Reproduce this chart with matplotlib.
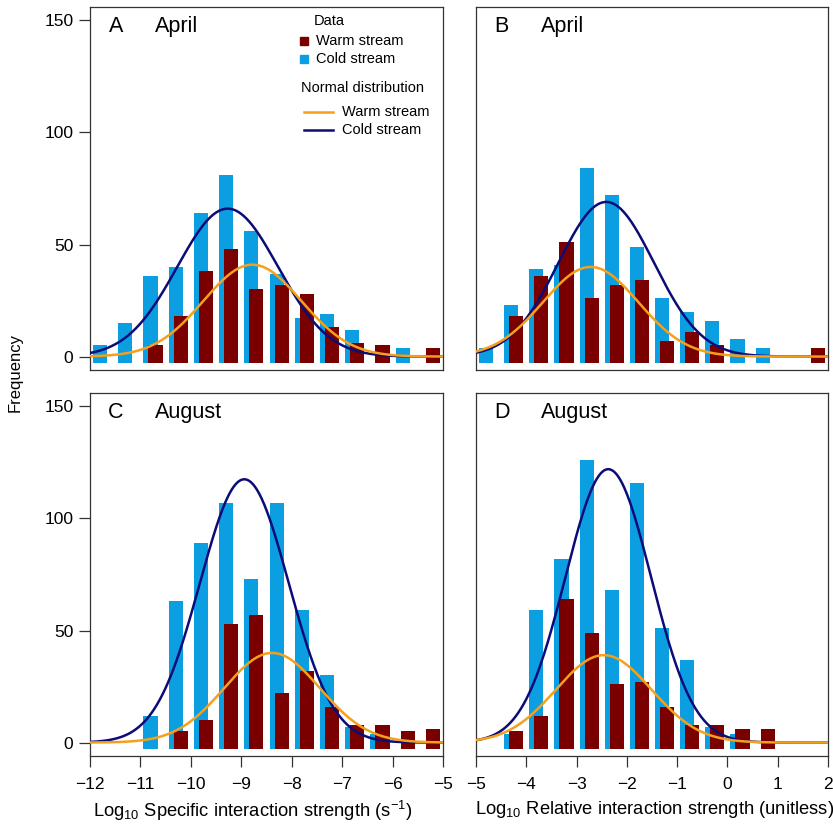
import numpy as np
import matplotlib
matplotlib.use("Agg")
import matplotlib.pyplot as plt

plt.rcParams['font.family'] = ['Liberation Sans', 'DejaVu Sans']
plt.rcParams['mathtext.fontset'] = 'custom'
plt.rcParams['mathtext.rm'] = 'Liberation Sans'
plt.rcParams['mathtext.it'] = 'Liberation Sans:italic'
plt.rcParams['mathtext.bf'] = 'Liberation Sans:bold'

# ---------------- data ----------------
bins_specific = [-11.75, -11.25, -10.75, -10.25, -9.75, -9.25, -8.75,
                 -8.25, -7.75, -7.25, -6.75, -6.25, -5.75, -5.25]
bins_relative = [-4.75, -4.25, -3.75, -3.25, -2.75, -2.25, -1.75,
                 -1.25, -0.75, -0.25, 0.25, 0.75, 1.25, 1.75]

april_specific_cold = [5, 15, 36, 40, 64, 81, 56, 37, 17, 19, 12, 0, 4, 0]
april_specific_warm = [0, 0, 5, 18, 38, 48, 30, 32, 28, 13, 6, 5, 0, 4]
april_relative_cold = [4, 23, 39, 41, 84, 72, 49, 26, 20, 16, 8, 4, 0, 0]
april_relative_warm = [0, 18, 36, 51, 26, 32, 34, 7, 11, 5, 0, 0, 0, 4]
august_specific_cold = [0, 0, 12, 63, 89, 107, 73, 107, 59, 30, 7, 4, 0, 0]
august_specific_warm = [0, 0, 0, 5, 10, 53, 57, 22, 32, 16, 8, 8, 5, 6]
august_relative_cold = [0, 4, 59, 82, 126, 68, 116, 51, 37, 7, 4, 0, 0, 0]
august_relative_warm = [0, 5, 12, 64, 49, 26, 27, 16, 8, 8, 6, 6, 0, 0]

# fitted normal curves: (mean, sd, peak height)
fit_april_specific_cold = (-9.27, 1.00, 66)
fit_april_specific_warm = (-8.78, 0.97, 41)
fit_april_relative_cold = (-2.41, 0.95, 69)
fit_april_relative_warm = (-2.72, 0.95, 40)
fit_august_specific_cold = (-8.94, 0.88, 117.5)
fit_august_specific_warm = (-8.39, 0.95, 40)
fit_august_relative_cold = (-2.37, 0.85, 122)
fit_august_relative_warm = (-2.46, 0.95, 39)

panel_letters = ['A', 'B', 'C', 'D']
panel_months = ['April', 'April', 'August', 'August']
xticks_specific = [-12, -11, -10, -9, -8, -7, -6, -5]
xticks_relative = [-5, -4, -3, -2, -1, 0, 1, 2]
yticks = [0, 50, 100, 150]

# ---------------- style ----------------
C_COLD_BAR = '#0B9FE2'
C_WARM_BAR = '#7A0000'
C_COLD_LINE = '#0C0C78'
C_WARM_LINE = '#F5A01C'
BAR_W = 0.28
OFFSET = 0.05
BASE = -3

W, H = 833, 825
fig = plt.figure(figsize=(W / 100, H / 100), dpi=100)


def ax_at(x0, x1, ytop, ybot):
    return fig.add_axes([x0 / W, 1 - ybot / H, (x1 - x0) / W, (ybot - ytop) / H])


axA = ax_at(90, 443, 7, 370)
axB = ax_at(476, 828, 7, 370)
axC = ax_at(90, 443, 393, 756)
axD = ax_at(476, 828, 393, 756)

panels = [
    (axA, bins_specific, april_specific_cold, april_specific_warm,
     fit_april_specific_cold, fit_april_specific_warm, (-12, -5)),
    (axB, bins_relative, april_relative_cold, april_relative_warm,
     fit_april_relative_cold, fit_april_relative_warm, (-5, 2)),
    (axC, bins_specific, august_specific_cold, august_specific_warm,
     fit_august_specific_cold, fit_august_specific_warm, (-12, -5)),
    (axD, bins_relative, august_relative_cold, august_relative_warm,
     fit_august_relative_cold, fit_august_relative_warm, (-5, 2)),
]


def normal_curve(x, fit):
    m, s, p = fit
    return p * np.exp(-0.5 * ((x - m) / s) ** 2)


for i, (ax, bins, cold, warm, fc, fw, xl) in enumerate(panels):
    b = np.array(bins)
    c = np.array(cold, dtype=float)
    w = np.array(warm, dtype=float)
    mc = c > 0
    mw = w > 0
    ax.bar(b[mc] - OFFSET, c[mc] - BASE, bottom=BASE, width=BAR_W,
           color=C_COLD_BAR, linewidth=0, zorder=2)
    ax.bar(b[mw] + OFFSET, w[mw] - BASE, bottom=BASE, width=BAR_W,
           color=C_WARM_BAR, linewidth=0, zorder=3)
    xx = np.linspace(xl[0], xl[1], 400)
    ax.plot(xx, normal_curve(xx, fc), color=C_COLD_LINE, lw=1.8, zorder=4)
    ax.plot(xx, normal_curve(xx, fw), color=C_WARM_LINE, lw=1.8, zorder=5)
    ax.set_xlim(*xl)
    ax.set_ylim(-6, 156)
    for sp in ax.spines.values():
        sp.set_linewidth(0.9)
        sp.set_color('#333333')
    ax.tick_params(direction='out', length=8, width=0.9, color='#333333',
                   labelsize=12.5, pad=4)
    if i in (0, 2):
        ax.set_yticks(yticks)
        ax.set_yticklabels([str(v) for v in yticks])
    else:
        ax.set_yticks([])
    if i in (2, 3):
        ticks = xticks_specific if i == 2 else xticks_relative
        ax.set_xticks(ticks)
        ax.set_xticklabels([('\u2212' + str(-t)) if t < 0 else str(t) for t in ticks])
        ax.tick_params(axis='x', pad=7)
    else:
        ax.set_xticks([])
    ax.text(0.073, 0.945, panel_letters[i], transform=ax.transAxes,
            ha='center', va='center', fontsize=15.5)
    ax.text(0.185, 0.945, panel_months[i], transform=ax.transAxes,
            ha='left', va='center', fontsize=15.5)

# legend in panel A (built by hand to match layout)
T = axA.transAxes
axA.text(0.678, 0.962, 'Data', transform=T, ha='center', va='center', fontsize=10.5)
axA.plot([0.605], [0.907], marker='s', ms=6, color=C_WARM_BAR, transform=T,
         linestyle='none', clip_on=False)
axA.plot([0.605], [0.858], marker='s', ms=6, color=C_COLD_BAR, transform=T,
         linestyle='none', clip_on=False)
axA.text(0.640, 0.907, 'Warm stream', transform=T, ha='left', va='center', fontsize=10.5)
axA.text(0.640, 0.858, 'Cold stream', transform=T, ha='left', va='center', fontsize=10.5)
axA.text(0.598, 0.777, 'Normal distribution', transform=T, ha='left', va='center', fontsize=10.5)
axA.plot([0.605, 0.689], [0.711, 0.711], color=C_WARM_LINE, lw=1.8, transform=T)
axA.plot([0.605, 0.689], [0.661, 0.661], color=C_COLD_LINE, lw=1.8, transform=T)
axA.text(0.715, 0.711, 'Warm stream', transform=T, ha='left', va='center', fontsize=10.5)
axA.text(0.715, 0.661, 'Cold stream', transform=T, ha='left', va='center', fontsize=10.5)

fig.text(15 / W, 1 - 372 / H, 'Frequency', rotation=90, ha='center', va='center',
         fontsize=12)
fig.text(253 / W, 1 - 811 / H, r'Log$_{10}$ Specific interaction strength (s$^{-1}$)',
         ha='center', va='center', fontsize=13.2)
fig.text(475 / W, 1 - 809 / H, r'Log$_{10}$ Relative interaction strength (unitless)',
         ha='left', va='center', fontsize=13.2)

fig.savefig('out.png', dpi=100)
